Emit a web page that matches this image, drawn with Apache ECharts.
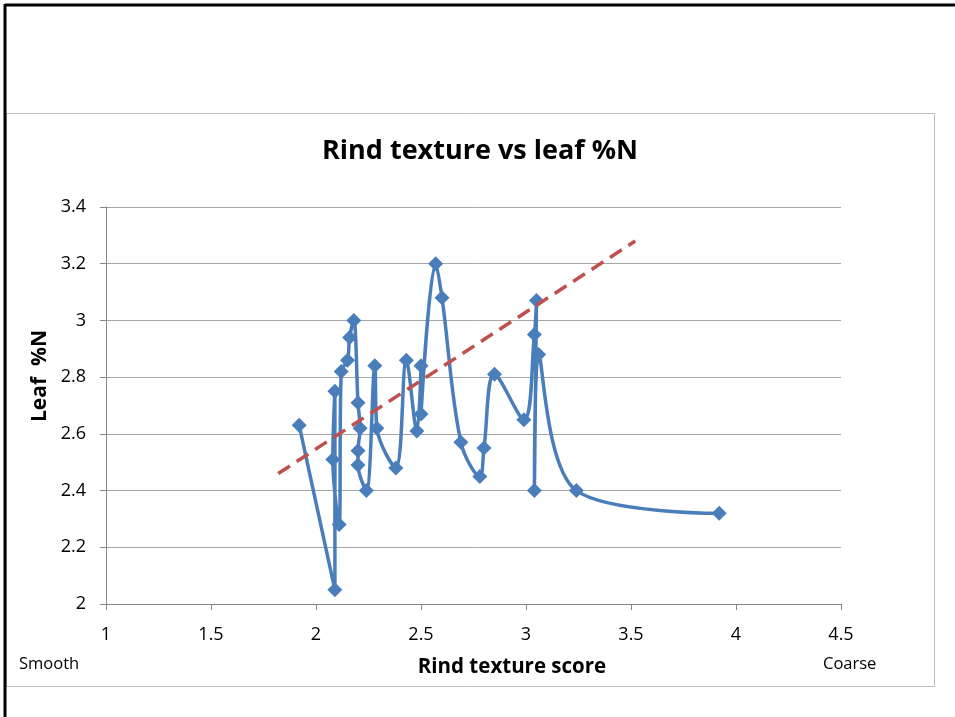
<!DOCTYPE html>
<html>
<head>
<meta charset="utf-8">
<script src="https://cdn.jsdelivr.net/npm/echarts@6/dist/echarts.min.js"></script>
<style>
html,body{margin:0;padding:0;background:#fff;}
#c{width:955px;height:717px;}
</style>
</head>
<body>
<div id="c"></div>
<script>
// Rind texture score (x) and leaf %N (y), in series order
var texture = [1.92, 2.09, 2.09, 2.08, 2.11, 2.12, 2.15, 2.16, 2.18, 2.20, 2.21, 2.20, 2.20, 2.24, 2.28, 2.29, 2.38, 2.43, 2.48, 2.50, 2.50, 2.57, 2.60, 2.69, 2.78, 2.80, 2.85, 2.99, 3.04, 3.05, 3.04, 3.06, 3.24, 3.92];
var leafN   = [2.63, 2.05, 2.75, 2.51, 2.28, 2.82, 2.86, 2.94, 3.00, 2.71, 2.62, 2.54, 2.49, 2.40, 2.84, 2.62, 2.48, 2.86, 2.61, 2.84, 2.67, 3.20, 3.08, 2.57, 2.45, 2.55, 2.81, 2.65, 2.95, 3.07, 2.40, 2.88, 2.40, 2.32];
// linear trend line end points
var trendX = [1.82, 3.52];
var trendY = [2.46, 3.28];
var xTicks = [1, 1.5, 2, 2.5, 3, 3.5, 4, 4.5];
var yTicks = [2, 2.2, 2.4, 2.6, 2.8, 3, 3.2, 3.4];

var pts = texture.map(function(x, i){ return [x, leafN[i]]; });
var trend = trendX.map(function(x, i){ return [x, trendY[i]]; });
var F = '"Open Sans", sans-serif';

var chart = echarts.init(document.getElementById('c'));
chart.setOption({
  animation: false,
  backgroundColor: '#fff',
  title: {
    text: 'Rind texture vs leaf %N',
    left: 475, top: 133, textAlign: 'center',
    textStyle: {fontFamily: F, fontSize: 27, fontWeight: 'bold', color: '#000'}
  },
  grid: {left: 106, top: 207, right: 114, bottom: 113, containLabel: false},
  xAxis: {
    type: 'value', min: 1, max: 4.5, interval: 0.5,
    axisLine: {show: true, lineStyle: {color: '#868686', width: 1}},
    axisTick: {show: true, length: 6, lineStyle: {color: '#868686'}},
    axisLabel: {fontFamily: F, fontSize: 18, color: '#000', margin: 22,
      formatter: function(v){ return String(Math.round(v*10)/10); }},
    splitLine: {show: false}
  },
  yAxis: {
    type: 'value', min: 2, max: 3.4, interval: 0.2,
    axisLine: {show: true, lineStyle: {color: '#868686', width: 1}},
    axisTick: {show: true, length: 6, lineStyle: {color: '#868686'}},
    axisLabel: {fontFamily: F, fontSize: 18, color: '#000', margin: 20,
      formatter: function(v){ return String(Math.round(v*10)/10); }},
    splitLine: {show: true, lineStyle: {color: '#A6A6A6', width: 1}}
  },
  series: [
    {
      type: 'line', data: pts, smooth: 0.35,
      symbol: 'diamond', symbolSize: 15,
      lineStyle: {color: '#4A7EBB', width: 3.5},
      itemStyle: {color: '#4A7EBB'},
      z: 2
    },
    {
      type: 'line', data: trend, symbol: 'none',
      lineStyle: {color: '#C0504D', width: 3.5, type: [14, 8]},
      z: 3
    }
  ],
  graphic: [
    {type: 'rect', shape: {x: 6.5, y: 113.5, width: 928, height: 573}, style: {fill: 'none', stroke: '#BFBFBF', lineWidth: 1}, z: -1},
    {type: 'line', shape: {x1: 5, y1: 5, x2: 955, y2: 5}, style: {stroke: '#000', lineWidth: 3}},
    {type: 'line', shape: {x1: 5, y1: 4, x2: 5, y2: 717}, style: {stroke: '#000', lineWidth: 3}},
    {type: 'text', x: 40, y: 376, rotation: Math.PI / 2,
      style: {text: 'Leaf  %N', fontFamily: F, fontSize: 21, fontWeight: 'bold', fill: '#000', textAlign: 'center', textVerticalAlign: 'middle'}},
    {type: 'text', x: 512, y: 667,
      style: {text: 'Rind texture score', fontFamily: F, fontSize: 20.5, fontWeight: 'bold', fill: '#000', textAlign: 'center', textVerticalAlign: 'middle'}},
    {type: 'text', left: 19, top: 656, style: {text: 'Smooth', fontFamily: F, fontSize: 16.5, fill: '#000'}},
    {type: 'text', left: 823, top: 656, style: {text: 'Coarse', fontFamily: F, fontSize: 16.5, fill: '#000'}}
  ]
});
</script>
</body>
</html>
